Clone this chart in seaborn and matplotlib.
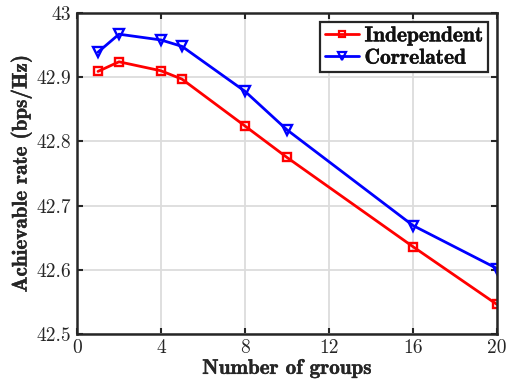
import matplotlib
matplotlib.use("Agg")
import matplotlib.pyplot as plt
import matplotlib.patheffects as pe
import seaborn as sns
import pandas as pd

# Achievable rate versus number of groups
groups = [1, 2, 4, 5, 8, 10, 16, 20]
rate_independent = [42.909, 42.924, 42.910, 42.897, 42.824, 42.775, 42.636, 42.546]
rate_correlated = [42.939, 42.967, 42.958, 42.948, 42.878, 42.818, 42.669, 42.602]
series_names = ["Independent", "Correlated"]

x_ticks = [0, 4, 8, 12, 16, 20]
y_ticks = [42.5, 42.6, 42.7, 42.8, 42.9, 43.0]
y_tick_labels = ["42.5", "42.6", "42.7", "42.8", "42.9", "43"]

df = pd.DataFrame({
    "groups": groups * 2,
    "rate": rate_independent + rate_correlated,
    "scheme": [series_names[0]] * len(groups) + [series_names[1]] * len(groups),
})

colors = ["#ff0000", "#0000ff"]
marker_sizes = [5.8, 7.6]

sns.set_theme(style="white")
plt.rcParams["font.family"] = ["cmr10", "DejaVu Serif"]
plt.rcParams["axes.formatter.use_mathtext"] = True

fig = plt.figure(figsize=(5.08, 3.90), dpi=100)
ax = fig.add_axes([77 / 508, 1 - 334 / 390, 420 / 508, 321 / 390])

sns.lineplot(
    data=df, x="groups", y="rate", hue="scheme", style="scheme",
    palette=dict(zip(series_names, colors)),
    markers={"Independent": "s", "Correlated": "v"},
    dashes=False, ax=ax, linewidth=2.0, markersize=7,
    markerfacecolor="none", markeredgewidth=1.7,
)
# hollow markers with coloured edges
for line, c, ms in zip(ax.lines, colors, marker_sizes):
    line.set_markeredgecolor(c)
    line.set_markerfacecolor("none")
    line.set_markersize(ms)

ax.set_xlim(0, 20)
ax.set_ylim(42.5, 43.0)
ax.set_xticks(x_ticks)
ax.set_xticklabels([str(t) for t in x_ticks])
ax.set_yticks(y_ticks)
ax.set_yticklabels(y_tick_labels)

ax.grid(True, color="#dcdcdc", linewidth=1.3)
ax.set_axisbelow(True)
for s in ax.spines.values():
    s.set_visible(True)
    s.set_color("#262626")
    s.set_linewidth(1.8)
ax.tick_params(axis="both", direction="in", length=4, width=1.5, color="#262626",
               labelsize=14, labelcolor="#262626", pad=4,
               top=True, right=True, bottom=True, left=True)

heavy = [pe.withStroke(linewidth=0.3, foreground="#262626")]
xl = ax.set_xlabel("Number of groups", family="cmb10", fontsize=15.2, color="#262626", labelpad=1)
yl = ax.set_ylabel("Achievable rate (bps/Hz)", family="cmb10", fontsize=15.2, color="#262626", labelpad=3)
xl.set_path_effects(heavy)
yl.set_path_effects(heavy)

handles, labels = ax.get_legend_handles_labels()
for h, c, ms in zip(handles, colors, [4.6, 6.4]):
    h.set_markerfacecolor("none")
    h.set_markeredgecolor(c)
    h.set_markeredgewidth(1.6)
    h.set_markersize(ms)
leg = ax.legend(handles, labels, loc="upper right", bbox_to_anchor=(0.979, 0.972),
                prop={"family": "cmb10", "size": 15.5}, frameon=True, fancybox=False,
                edgecolor="#262626", framealpha=1, borderpad=0.2, handlelength=1.6,
                handletextpad=0.25, labelspacing=0.15, borderaxespad=0.0)
leg.get_frame().set_linewidth(1.6)
for t in leg.get_texts():
    t.set_color("#111111")
    t.set_path_effects([pe.withStroke(linewidth=0.3, foreground="#111111")])

fig.savefig("out.png", dpi=100)
